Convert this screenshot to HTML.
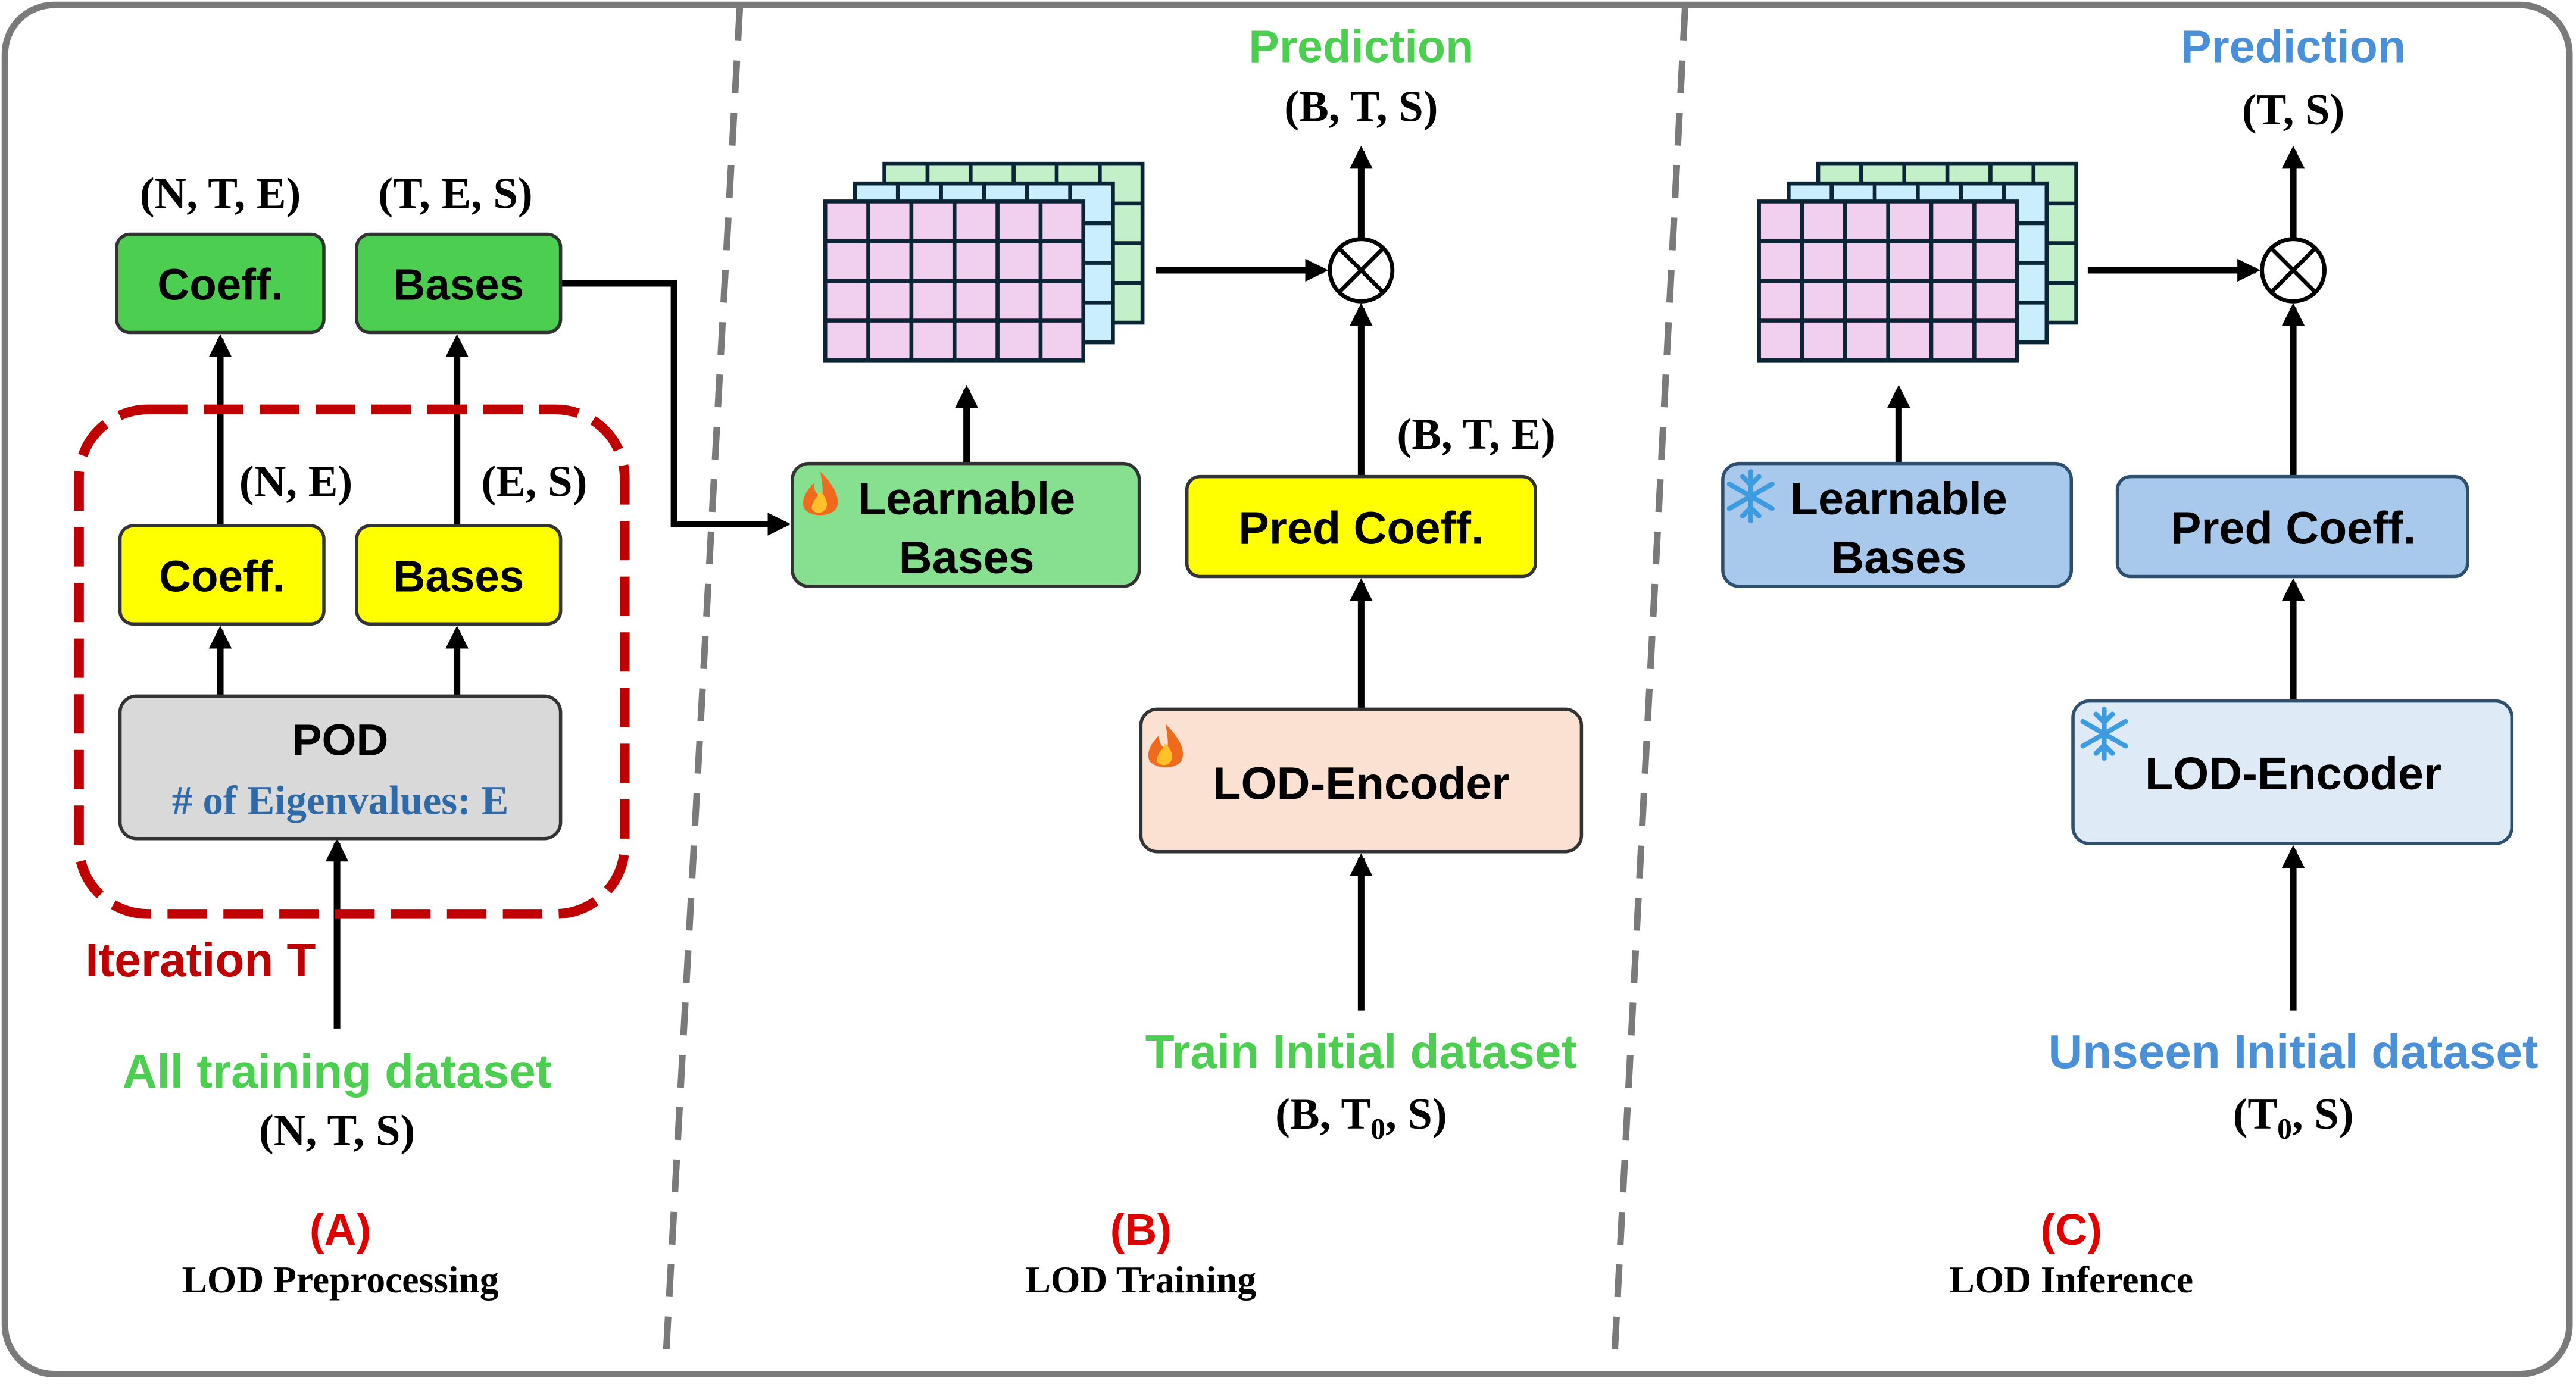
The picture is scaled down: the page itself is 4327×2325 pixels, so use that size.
<!DOCTYPE html>
<html><head><meta charset="utf-8"><style>
html,body{margin:0;padding:0;background:#fff;}
svg{display:block;}
.s{font-family:"Liberation Sans",sans-serif;font-weight:bold;}
.r{font-family:"Liberation Serif",serif;font-weight:bold;}
</style></head><body>
<svg width="4327" height="2325" viewBox="0 0 1567 845" preserveAspectRatio="none" xmlns="http://www.w3.org/2000/svg">
<defs>
<marker id="ah" markerWidth="14" markerHeight="14" refX="11" refY="7" orient="auto" markerUnits="userSpaceOnUse" viewBox="0 0 14 14">
<path d="M0,0 L14,7 L0,14 z" fill="#000"/></marker>
<g id="gl" stroke="#0a2535" stroke-width="2.4" fill="none">
<rect x="0" y="0" width="157" height="97"/>
<line x1="26.2" y1="0" x2="26.2" y2="97"/><line x1="52.4" y1="0" x2="52.4" y2="97"/><line x1="78.6" y1="0" x2="78.6" y2="97"/><line x1="104.8" y1="0" x2="104.8" y2="97"/><line x1="131" y1="0" x2="131" y2="97"/>
<line x1="0" y1="24.25" x2="157" y2="24.25"/><line x1="0" y1="48.5" x2="157" y2="48.5"/><line x1="0" y1="72.75" x2="157" y2="72.75"/>
</g>
<g id="stack">
<rect x="36" y="0" width="157" height="97" fill="#c3f0c8"/><use href="#gl" x="36" y="0"/>
<rect x="18" y="12" width="157" height="97" fill="#cbeefc"/><use href="#gl" x="18" y="12"/>
<rect x="0" y="23" width="157" height="97" fill="#f1cfee"/><use href="#gl" x="0" y="23"/>
</g>
<g id="fire"><path d="M0,-14 C9,-5 12,2 10,8 C7,14 -7,14 -10,8 C-12,2 -7,-4 -4,-7 C-4,-1 -1,1 1,1 C2,-3 1,-8 0,-14z" fill="#f06a1e"/><path d="M0,-2 C5,3 5,8 2,10 C0,12 -4,11 -5,9 C-6,5 -2,2 0,-2z" fill="#ffc02a"/></g>
<g id="snow" stroke="#3d9be0" stroke-width="3" stroke-linecap="round"><line x1="0" y1="-15" x2="0" y2="15"/><line x1="-13" y1="-7.5" x2="13" y2="7.5"/><line x1="-13" y1="7.5" x2="13" y2="-7.5"/><path d="M-5,-12 L0,-7 L5,-12 M-5,12 L0,7 L5,12" fill="none"/></g>
</defs>
<rect x="3" y="3" width="1560" height="836" rx="30" fill="#fff" stroke="#7a7a7a" stroke-width="4"/>
<line x1="450" y1="5" x2="405" y2="830" stroke="#7a7a7a" stroke-width="4" stroke-dasharray="20 12"/>
<line x1="1025" y1="5" x2="982" y2="830" stroke="#7a7a7a" stroke-width="4" stroke-dasharray="20 12"/>

<!-- Panel A -->
<g stroke="#000" stroke-width="4" fill="none" marker-end="url(#ah)">
<line x1="134" y1="321" x2="134" y2="207"/><line x1="278" y1="321" x2="278" y2="207"/>
<line x1="134" y1="425" x2="134" y2="385"/><line x1="278" y1="425" x2="278" y2="385"/>
<line x1="205" y1="628" x2="205" y2="515"/>
<polyline points="341,173 410,173 410,320 478,320"/>
</g>
<rect x="48" y="250" width="332" height="308" rx="42" fill="none" stroke="#c00000" stroke-width="6" stroke-dasharray="24 10"/>
<g stroke="#333" stroke-width="2">
<rect x="71" y="143" width="126" height="60" rx="8" fill="#4ccf50"/>
<rect x="217" y="143" width="124" height="60" rx="8" fill="#4ccf50"/>
<rect x="73" y="321" width="124" height="60" rx="8" fill="#ffff00"/>
<rect x="217" y="321" width="124" height="60" rx="8" fill="#ffff00"/>
<rect x="73" y="425" width="268" height="87" rx="10" fill="#d9d9d9"/>
</g>
<g class="s" font-size="27" text-anchor="middle" fill="#000">
<text x="134" y="183">Coeff.</text><text x="279" y="183">Bases</text>
<text x="135" y="361">Coeff.</text><text x="279" y="361">Bases</text>
<text x="207" y="461">POD</text>
</g>
<g class="r" font-size="27" text-anchor="middle" fill="#000">
<text x="134" y="127">(N, T, E)</text><text x="277" y="127">(T, E, S)</text>
<text x="180" y="303">(N, E)</text><text x="325" y="303">(E, S)</text>
<text x="205" y="699">(N, T, S)</text>
</g>
<text class="r" x="207" y="497" font-size="25" text-anchor="middle" fill="#2e6aa8"># of Eigenvalues: E</text>
<text class="s" x="122" y="596" font-size="29" text-anchor="middle" fill="#c00000">Iteration T</text>
<text class="s" x="205" y="664" font-size="29" text-anchor="middle" fill="#4ccf50">All training dataset</text>
<text class="s" x="207" y="760" font-size="27" text-anchor="middle" fill="#e00000">(A)</text>
<text class="r" x="207" y="789" font-size="23" text-anchor="middle">LOD Preprocessing</text>

<!-- Panel B -->
<use href="#stack" x="502" y="100"/>
<g stroke="#000" stroke-width="4" fill="none" marker-end="url(#ah)">
<line x1="588" y1="283" x2="588" y2="238"/>
<line x1="703" y1="165" x2="805" y2="165"/>
<line x1="828" y1="146" x2="828" y2="92"/>
<line x1="828" y1="291" x2="828" y2="188"/>
<line x1="828" y1="433" x2="828" y2="356"/>
<line x1="828" y1="617" x2="828" y2="524"/>
</g>
<circle cx="828" cy="165" r="19" fill="#fff" stroke="#000" stroke-width="2.5"/>
<path d="M814.5,151.5 L841.5,178.5 M841.5,151.5 L814.5,178.5" stroke="#000" stroke-width="2.5"/>
<g stroke="#333" stroke-width="2">
<rect x="482" y="283" width="211" height="75" rx="10" fill="#86e08f"/>
<rect x="722" y="291" width="212" height="61" rx="8" fill="#ffff00"/>
<rect x="694" y="433" width="268" height="87" rx="10" fill="#fbe1d2"/>
</g>
<use href="#fire" x="499" y="302"/><use href="#fire" x="709" y="456"/>
<g class="s" font-size="28" text-anchor="middle" fill="#000">
<text x="588" y="314">Learnable</text><text x="588" y="350">Bases</text>
<text x="828" y="332">Pred Coeff.</text>
<text x="828" y="488">LOD-Encoder</text>
</g>
<text class="s" x="828" y="38" font-size="28" text-anchor="middle" fill="#4ccf50">Prediction</text>
<text class="s" x="828" y="652" font-size="29" text-anchor="middle" fill="#4ccf50">Train Initial dataset</text>
<g class="r" font-size="27" text-anchor="middle" fill="#000">
<text x="828" y="74">(B, T, S)</text>
<text x="898" y="274">(B, T, E)</text>
<text x="828" y="689">(B, T<tspan font-size="18" dy="6">0</tspan><tspan dy="-6">, S)</tspan></text>
</g>
<text class="s" x="694" y="760" font-size="27" text-anchor="middle" fill="#e00000">(B)</text>
<text class="r" x="694" y="789" font-size="23" text-anchor="middle">LOD Training</text>

<!-- Panel C -->
<use href="#stack" x="1070" y="100"/>
<g stroke="#000" stroke-width="4" fill="none" marker-end="url(#ah)">
<line x1="1155" y1="283" x2="1155" y2="238"/>
<line x1="1270" y1="165" x2="1372" y2="165"/>
<line x1="1395" y1="146" x2="1395" y2="92"/>
<line x1="1395" y1="291" x2="1395" y2="188"/>
<line x1="1395" y1="428" x2="1395" y2="356"/>
<line x1="1395" y1="617" x2="1395" y2="519"/>
</g>
<circle cx="1395" cy="165" r="19" fill="#fff" stroke="#000" stroke-width="2.5"/>
<path d="M1381.5,151.5 L1408.5,178.5 M1408.5,151.5 L1381.5,178.5" stroke="#000" stroke-width="2.5"/>
<g stroke="#2f4f6f" stroke-width="2">
<rect x="1048" y="283" width="212" height="75" rx="10" fill="#a9c9ec"/>
<rect x="1288" y="291" width="213" height="61" rx="8" fill="#a9c9ec"/>
<rect x="1261" y="428" width="267" height="87" rx="10" fill="#deebf7"/>
</g>
<use href="#snow" x="1065" y="303"/><use href="#snow" x="1280" y="448"/>
<g class="s" font-size="28" text-anchor="middle" fill="#000">
<text x="1155" y="314">Learnable</text><text x="1155" y="350">Bases</text>
<text x="1395" y="332">Pred Coeff.</text>
<text x="1395" y="482">LOD-Encoder</text>
</g>
<text class="s" x="1395" y="38" font-size="28" text-anchor="middle" fill="#4a90d9">Prediction</text>
<text class="s" x="1395" y="652" font-size="29" text-anchor="middle" fill="#4a90d9">Unseen Initial dataset</text>
<g class="r" font-size="27" text-anchor="middle" fill="#000">
<text x="1395" y="76">(T, S)</text>
<text x="1395" y="689">(T<tspan font-size="18" dy="6">0</tspan><tspan dy="-6">, S)</tspan></text>
</g>
<text class="s" x="1260" y="760" font-size="27" text-anchor="middle" fill="#e00000">(C)</text>
<text class="r" x="1260" y="789" font-size="23" text-anchor="middle">LOD Inference</text>
</svg>
</body></html>
